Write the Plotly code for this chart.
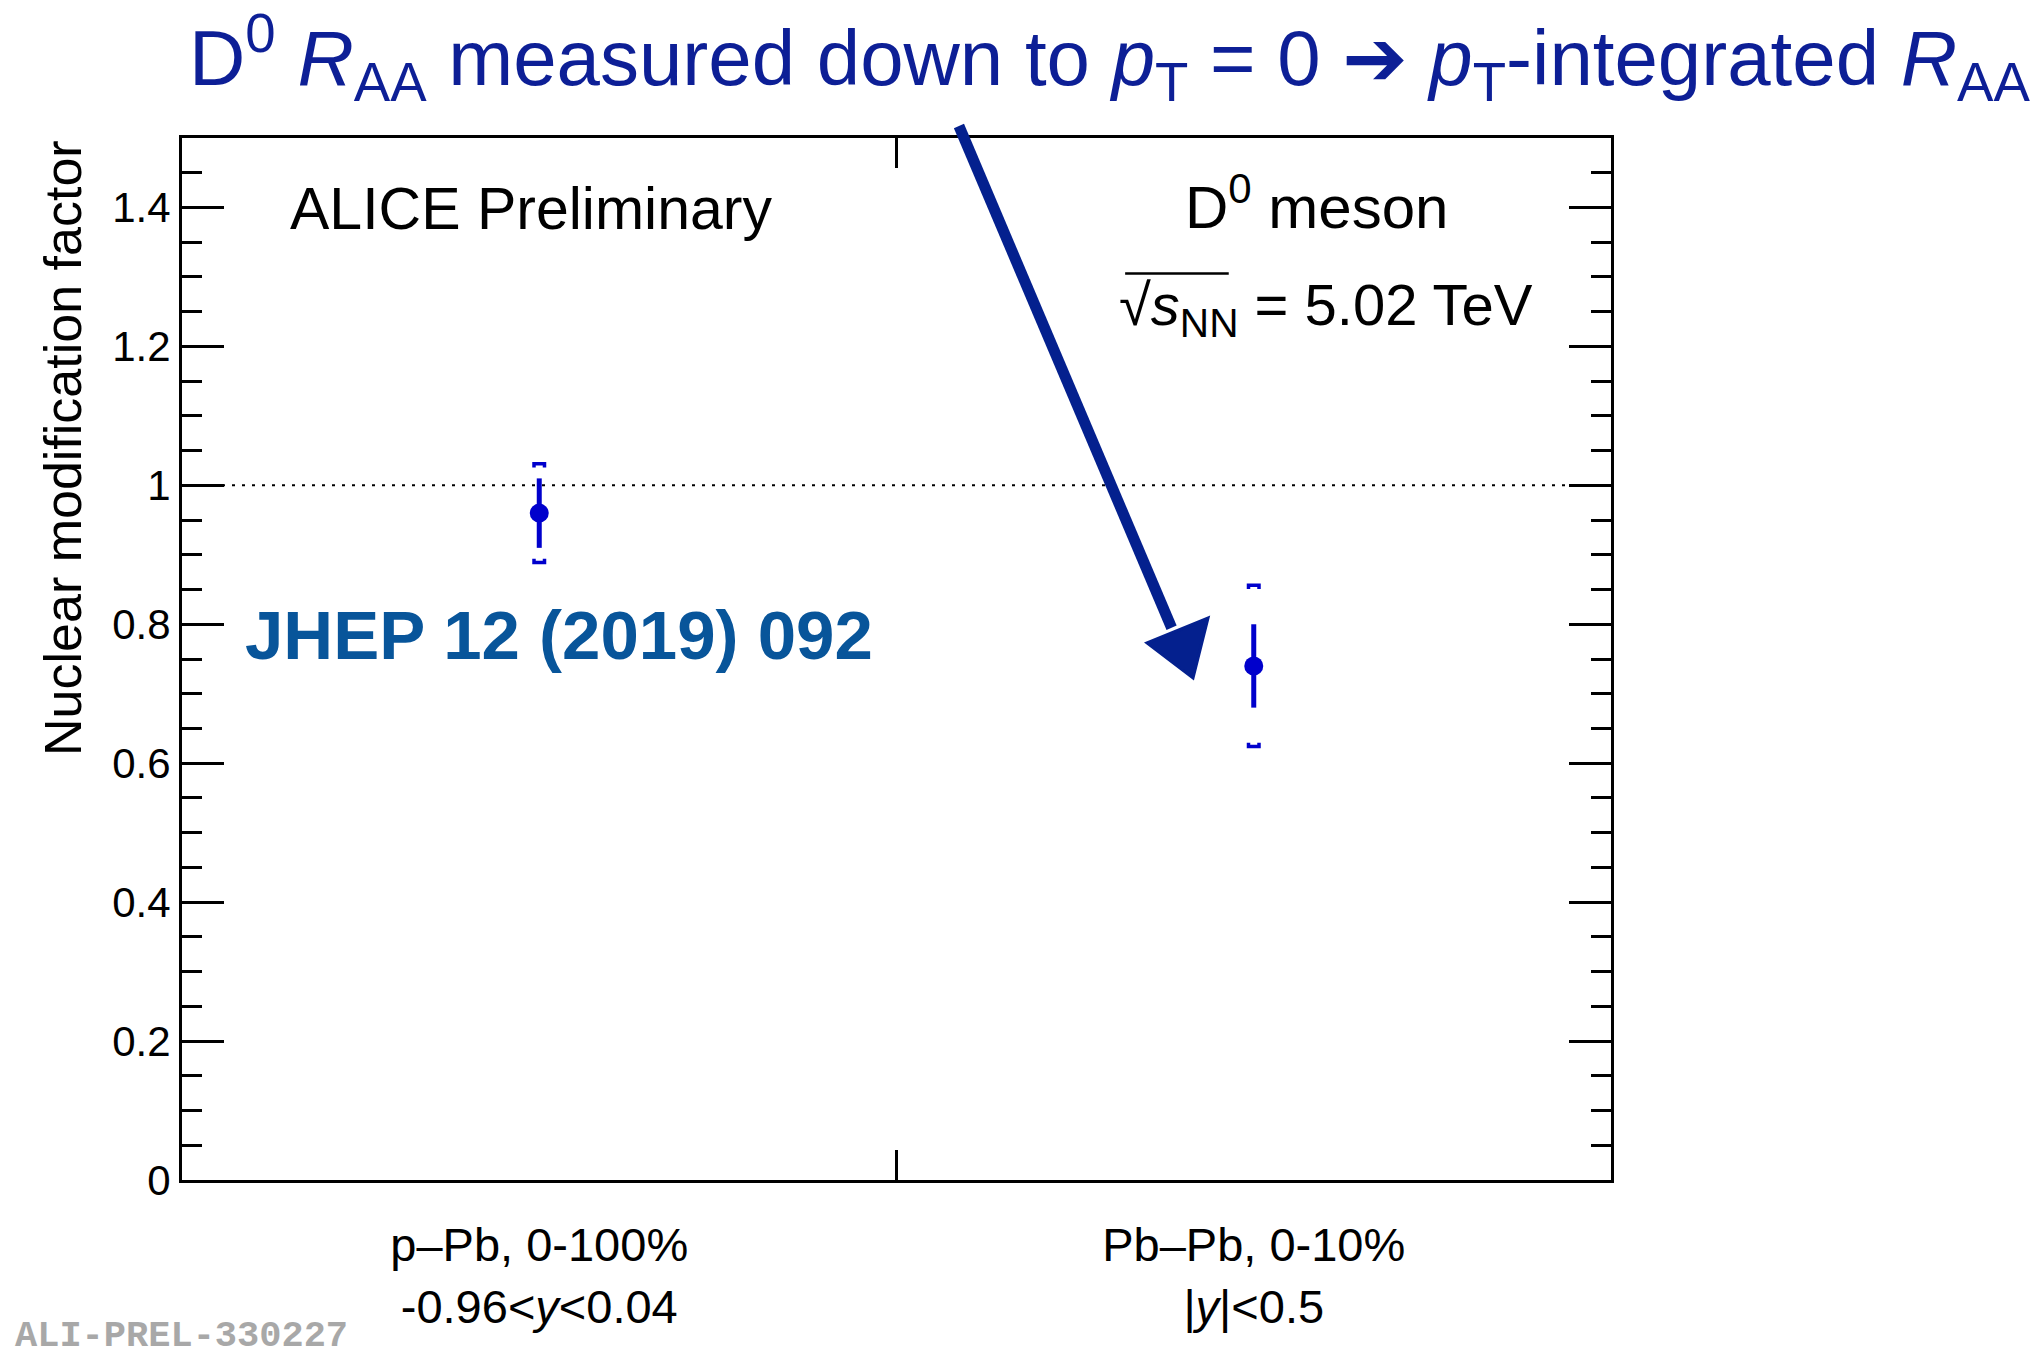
import plotly.graph_objects as go

# Integrated D0 nuclear modification factor per collision system
systems = ["p–Pb, 0-100%", "Pb–Pb, 0-10%"]
rapidity_labels = ["-0.96&lt;<i>y</i>&lt;0.04", "|<i>y</i>|&lt;0.5"]
raa = [0.96, 0.74]
stat_err = [0.05, 0.06]
syst_err = [0.07, 0.115]

y_ticks = [0, 0.2, 0.4, 0.6, 0.8, 1.0, 1.2, 1.4]
y_tick_text = ["0", "0.2", "0.4", "0.6", "0.8", "1", "1.2", "1.4"]

DATA_BLUE = "#0000CC"
TITLE_BLUE = "#0D1F96"
ARROW_BLUE = "#04208E"
JHEP_BLUE = "#08559A"
FONT = "Liberation Sans"

fig = go.Figure()

fig.add_trace(go.Scatter(
    x=systems, y=raa, mode="markers",
    marker=dict(size=19, color=DATA_BLUE),
    error_y=dict(type="data", array=stat_err, visible=True,
                 thickness=5, width=0, color=DATA_BLUE),
    showlegend=False, cliponaxis=False,
))

shapes = []
# unity reference line
shapes.append(dict(type="line", xref="paper", yref="y", x0=0, x1=1, y0=1, y1=1,
                   line=dict(color="black", width=2, dash="3px,7px"), layer="below"))

# systematic uncertainty brackets, sized in pixels around y +/- syst
top_bracket = "M-7,-3 L-7,2.5 L7,2.5 L7,-3 L3.5,-3 L3.5,-1 L-3.5,-1 L-3.5,-3 Z"
bot_bracket = "M-7,3 L-7,-2.5 L7,-2.5 L7,3 L3.5,3 L3.5,1 L-3.5,1 L-3.5,3 Z"
for i, (v, s) in enumerate(zip(raa, syst_err)):
    for yy, p in ((v + s, top_bracket), (v - s, bot_bracket)):
        shapes.append(dict(type="path", xref="x", yref="y",
                           xsizemode="pixel", ysizemode="pixel",
                           xanchor=i, yanchor=yy, path=p,
                           fillcolor=DATA_BLUE, line=dict(width=0)))

# hand-drawn arrow from the headline down to the Pb-Pb point
shapes.append(dict(type="line", xref="paper", yref="paper",
                   x0=0.5437, y0=1.0115, x1=0.6925, y1=0.5300,
                   line=dict(color=ARROW_BLUE, width=11)))
shapes.append(dict(type="path", xref="paper", yref="paper",
                   path="M0.6753,0.5154 L0.7180,0.5393 L0.7075,0.4818 Z",
                   fillcolor=ARROW_BLUE, line=dict(color=ARROW_BLUE, width=3)))
# vinculum of the square root
shapes.append(dict(type="line", xref="paper", yref="paper",
                   x0=0.6600, x1=0.7325, y0=0.8700, y1=0.8700,
                   line=dict(color="black", width=2.5)))

annotations = [
    dict(text="D<sup>0</sup> <i>R</i><sub>AA</sub> measured down to <i>p</i><sub>T</sub> = 0 "
              "<span style='font-family:DejaVu Sans'>➔</span> "
              "<i>p</i><sub>T</sub>-integrated <i>R</i><sub>AA</sub>",
         xref="paper", yref="paper", x=0.649, y=1.077, xanchor="center", yanchor="middle",
         showarrow=False, font=dict(size=78, color=TITLE_BLUE, family=FONT)),
    dict(text="ALICE Preliminary", xref="paper", yref="paper", x=0.244, y=0.932,
         xanchor="center", yanchor="middle", showarrow=False,
         font=dict(size=59, color="black", family=FONT)),
    dict(text="D<sup>0</sup> meson", xref="paper", yref="paper", x=0.794, y=0.938,
         xanchor="center", yanchor="middle", showarrow=False,
         font=dict(size=60, color="black", family=FONT)),
    dict(text="√<i>s</i><sub>NN</sub> = 5.02 TeV", xref="paper", yref="paper", x=0.8006, y=0.836,
         xanchor="center", yanchor="middle", showarrow=False,
         font=dict(size=58, color="black", family=FONT)),
    dict(text="<b>JHEP 12 (2019) 092</b>", xref="paper", yref="paper", x=0.2638, y=0.523,
         xanchor="center", yanchor="middle", showarrow=False,
         font=dict(size=69, color=JHEP_BLUE, family=FONT)),
    dict(text="Nuclear modification factor", xref="paper", yref="paper", x=-0.0833, y=1.0,
         xanchor="center", yanchor="top", textangle=-90, showarrow=False,
         font=dict(size=52, color="black", family=FONT)),
    dict(text="<b>ALI-PREL-330227</b>", xref="paper", yref="paper", x=-0.1183, y=-0.1720,
         xanchor="left", yanchor="bottom", showarrow=False,
         font=dict(size=37, color="#A8A8A8", family="Liberation Mono")),
]

fig.update_layout(
    width=2044, height=1356,
    margin=dict(l=182, r=433, t=138, b=176),
    paper_bgcolor="white", plot_bgcolor="white",
    font=dict(family=FONT, color="black"),
    shapes=shapes, annotations=annotations,
    xaxis=dict(
        type="category", range=[-0.5, 1.5],
        tickvals=systems,
        ticktext=[f"{s}<br>{r}" for s, r in zip(systems, rapidity_labels)],
        tickson="boundaries", ticks="inside", ticklen=30, tickwidth=2.5, tickcolor="black",
        showline=True, linewidth=3, linecolor="black", mirror="allticks",
        showgrid=False, zeroline=False,
        tickfont=dict(size=47, color="black", family=FONT),
        ticklabelstandoff=22,
    ),
    yaxis=dict(
        range=[0, 1.5], tickvals=y_ticks, ticktext=y_tick_text,
        ticks="inside", ticklen=42, tickwidth=2.5, tickcolor="black",
        minor=dict(dtick=0.05, ticks="inside", ticklen=20, tickwidth=2.5, tickcolor="black",
                   showgrid=False),
        showline=True, linewidth=3, linecolor="black", mirror="allticks",
        showgrid=False, zeroline=False,
        tickfont=dict(size=42, color="black", family=FONT),
    ),
)

fig.write_html("out.html")
